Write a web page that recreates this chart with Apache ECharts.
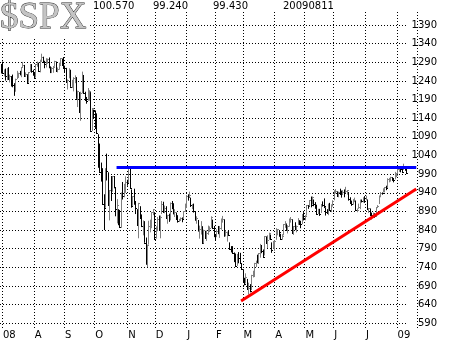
<!DOCTYPE html>
<html><head><meta charset="utf-8">
<script src="https://cdn.jsdelivr.net/npm/echarts@6/dist/echarts.min.js"></script>
<style>html,body{margin:0;padding:0;background:#fff}#c{width:460px;height:345px}</style>
</head><body><div id="c"></div>
<script>
// ---- DATA ----
const holidays = ['2008-07-04','2008-09-01','2008-11-27','2008-12-25','2009-01-01','2009-01-19','2009-02-16','2009-04-10','2009-05-25','2009-07-03'];
const firstDay = '2008-07-01', lastAxisDay = '2009-08-20';
const highs = [
1285,1292,1271,1273,1274,1277,1257,1253,1257,1234,1246,1267,1262,1267,1277,1291,1283,1263,1258,1263,1285,1285,
1270,1263,1285,1292,1289,1297,1313,1305,1294,1301,1300,1303,1279,1277,1280,1294,1292,1276,1289,1301,1300,
1304,1281,1275,1244,1274,1270,1243,1250,1255,1250,1214,1210,1211,1265,1256,1211,1197,1221,1215,1210,1167,
1163,1161,1153,1097,1072,1021,1006,936,1006,1045,995,947,985,985,985,955,923,896,894,941,969,964,984,
975,1007,1004,949,931,951,917,896,913,904,882,866,864,820,801,865,868,888,896,
888,850,875,879,879,918,916,906,904,881,884,914,918,912,896,887,880,870,874,874,891,911,
934,936,943,927,910,911,890,877,867,852,864,850,841,838,839,852,850,877,868,851,
826,842,851,851,871,878,869,839,836,839,807,797,797,780,777,776,781,779,751,
735,712,724,709,699,695,720,731,752,758,774,778,803,800,788,823,823,826,833,828,807,811,
813,845,842,839,830,829,856,864,856,853,871,875,869,851,861,852,872,866,865,883,888,
880,907,907,920,930,930,922,915,908,897,897,910,917,925,901,896,911,913,909,920,
947,950,944,943,951,946,947,949,956,946,942,928,919,923,927,918,898,911,922,922,928,931,
932,921,898,898,887,887,885,901,907,933,942,941,952,954,959,979,980,983,982,978,996,993,
1003,1006,1006,1009,1018,1011,1006];
const lows = [
1260,1261,1252,1241,1242,1244,1236,1225,1223,1200,1211,1245,1248,1255,1250,1276,1252,1251,1234,1235,1264,1262,
1254,1247,1249,1278,1264,1263,1291,1288,1274,1276,1286,1274,1261,1261,1262,1278,1264,1263,1270,1283,1282,
1272,1263,1236,1217,1247,1224,1221,1212,1234,1192,1170,1155,1133,1207,1205,1187,1179,1187,1187,1106,1106,
1140,1112,1098,1007,996,970,909,840,900,973,907,866,918,943,952,877,858,853,847,846,922,928,940,
959,966,951,900,905,908,883,852,818,872,848,826,806,747,741,801,834,845,880,
815,817,837,840,818,883,886,885,872,857,862,866,896,882,875,867,860,862,866,861,870,889,
899,919,927,902,896,887,865,857,836,817,828,804,804,816,811,827,835,846,844,821,
812,821,829,819,841,860,822,823,809,825,787,780,777,754,742,744,751,751,734,
700,692,697,680,667,673,679,713,714,741,751,749,766,778,766,772,805,792,814,814,779,790,
784,814,826,822,814,814,826,846,838,831,849,860,832,827,840,834,854,854,845,856,866,
866,879,897,903,901,909,904,897,883,883,878,886,903,899,879,886,880,892,888,903,
920,938,929,928,934,927,934,928,939,935,919,911,905,908,915,893,888,897,896,914,914,913,
920,896,886,879,869,878,873,875,899,910,928,935,941,941,947,953,968,970,972,968,976,982,
990,996,995,993,1001,999,991];
const closes = [
1284.9,1261.5,1262.9,1252.3,1273.7,1244.7,1253.4,1239.5,1228.3,1214.9,1245.4,1260.3,1260.7,1260.0,1277.0,1282.2,1252.5,1257.8,1234.4,1263.2,1284.3,1267.4,
1260.3,1249.0,1284.9,1289.2,1266.1,1296.3,1305.3,1289.6,1285.8,1292.9,1298.2,1278.6,1266.7,1274.5,1277.7,1292.2,1266.8,1271.5,1281.7,1300.7,1282.8,
1277.6,1275.0,1236.8,1242.3,1267.8,1224.5,1232.0,1249.1,1251.7,1192.7,1213.6,1156.4,1206.5,1255.1,1207.1,1188.2,1185.9,1209.2,1213.3,1106.4,1166.4,
1161.1,1114.3,1099.2,1056.9,996.2,984.9,909.9,899.2,1003.4,998.0,907.8,946.4,940.6,985.4,955.1,896.8,908.1,876.8,848.9,940.5,930.1,954.1,968.8,
966.3,1005.8,952.8,904.9,931.0,919.2,899.0,852.3,911.3,873.3,850.8,859.1,806.6,752.4,800.0,851.8,857.4,887.7,896.2,
816.2,848.8,870.7,845.2,876.1,909.7,888.7,899.2,873.6,879.7,868.6,913.2,904.4,885.3,887.9,871.6,863.2,868.2,872.8,869.4,890.6,903.3,
931.8,927.5,934.7,906.7,909.7,890.4,870.3,871.8,842.6,843.7,850.1,805.2,840.2,827.5,832.0,836.6,845.7,874.1,845.1,825.9,
825.4,838.5,832.2,845.9,868.6,869.9,827.2,833.7,835.2,826.8,789.2,788.4,778.9,770.1,743.3,773.1,764.9,752.8,735.1,
700.8,696.3,712.9,682.6,683.4,676.5,719.6,721.4,750.7,756.6,753.9,778.1,794.4,784.0,768.5,822.9,806.1,813.9,832.9,815.9,787.5,797.9,
811.1,834.4,842.5,835.5,815.6,825.2,856.6,858.7,841.5,852.1,865.3,869.6,832.4,850.1,843.6,851.9,866.2,857.5,855.2,873.6,872.8,
877.5,907.2,903.8,919.5,907.4,929.2,909.2,908.4,883.9,893.1,882.9,909.7,908.1,903.5,888.3,887.0,910.3,893.1,906.8,919.1,
942.9,944.7,931.8,942.5,940.1,939.1,942.4,939.2,944.9,946.2,923.7,912.0,910.7,918.4,921.2,893.0,895.1,900.9,920.3,918.9,927.2,919.3,
923.3,896.4,898.7,881.0,879.6,882.7,879.1,901.1,905.8,932.7,940.7,940.4,951.1,954.6,954.1,976.3,979.3,982.2,979.6,975.2,986.8,987.5,
1002.6,1005.7,1002.7,997.1,1010.5,1007.1,994.4];
const tickDates = ['2008-07-01','2008-08-01','2008-09-02','2008-10-01','2008-11-03','2008-12-01','2009-01-02','2009-02-02','2009-03-02','2009-04-01','2009-05-01','2009-06-01','2009-07-01','2009-08-03'];
const tickLabels = ['08','A','S','O','N','D','J','F','M','A','M','J','J','09'];
const yTicks = {min: 590, max: 1390, step: 50};
const blueLine = [['2008-10-23', 1008], ['2009-08-20', 1008]];
const redLine = [['2009-02-27', 650], ['2009-08-20', 950]];
const headerTexts = ['100.570', '99.240', '99.430', '20090811'];
const headerX = [93, 153, 213, 283];

// ---- trading-day categories ----
const dates = [];
(function(){
  let d = new Date(firstDay + 'T00:00:00Z');
  const end = new Date(lastAxisDay + 'T00:00:00Z');
  while (d <= end) {
    const s = d.toISOString().slice(0,10);
    const wd = d.getUTCDay();
    if (wd !== 0 && wd !== 6 && holidays.indexOf(s) < 0) dates.push(s);
    d = new Date(d.getTime() + 86400000);
  }
})();

const barData = closes.map((c, i) => [i, lows[i], highs[i], c, (i > 0 && c >= closes[i-1]) ? 1 : 0]);
const font = 'DejaVu Sans';
const dotted = {color: '#000', width: 1, type: [1, 2]};

const chart = echarts.init(document.getElementById('c'), null, {renderer: 'canvas'});
chart.setOption({
  animation: false,
  backgroundColor: '#fff',
  title: {
    text: '$SPX', left: 0, top: 1, padding: [0, 2, 0, 0], backgroundColor: '#fff', z: 10,
    textStyle: {fontFamily: 'Liberation Serif', fontSize: 37, fontWeight: 'normal', lineHeight: 35,
      color: '#c4c4c4', textBorderColor: '#222', textBorderWidth: 0.8}
  },
  graphic: headerTexts.map((t, k) => ({
    type: 'text', left: headerX[k], top: 1, z: 10,
    style: {text: t, font: '10px "DejaVu Sans"', fill: '#000'}
  })),
  grid: [
    {left: 0, right: 43, top: 12, bottom: 17},
    {left: 0, right: 43, top: 25, bottom: 21.7},
    {left: 0, right: 53, top: 25, bottom: 21.7}
  ],
  xAxis: [
    {gridIndex: 0, type: 'category', data: dates, boundaryGap: true,
      axisLine: {show: false}, axisTick: {show: false},
      splitLine: {show: true, interval: (i, v) => tickDates.indexOf(v) >= 0, lineStyle: dotted},
      axisLabel: {interval: (i, v) => tickDates.indexOf(v) >= 0,
        formatter: v => tickLabels[tickDates.indexOf(v)] || '',
        align: 'left', margin: 2, fontSize: 10, fontFamily: font, color: '#000'}},
    {gridIndex: 1, type: 'category', data: dates, boundaryGap: true, show: false},
    {gridIndex: 2, type: 'value', show: false}
  ],
  yAxis: [
    {gridIndex: 0, type: 'value', show: false, splitLine: {show: false}},
    {gridIndex: 1, type: 'value', min: yTicks.min, max: yTicks.max, show: false, splitLine: {show: false}},
    {gridIndex: 2, type: 'value', position: 'right', min: yTicks.min, max: yTicks.max, interval: yTicks.step,
      axisLine: {show: false}, axisTick: {show: false},
      splitLine: {show: true, lineStyle: dotted},
      axisLabel: {align: 'right', margin: 30, fontSize: 10, fontFamily: font, color: '#000',
        formatter: v => String(v)}}
  ],
  series: [
    {type: 'custom', xAxisIndex: 1, yAxisIndex: 1, data: barData, encode: {x: 0, y: [1, 2]}, z: 3,
      renderItem: function(params, api) {
        const i = api.value(0);
        const lo = api.coord([i, api.value(1)]);
        const hi = api.coord([i, api.value(2)]);
        const c = api.coord([i, api.value(3)]);
        const col = api.value(4) ? '#808080' : '#000';
        const x = Math.round(lo[0]) + 0.5;
        const cy = Math.round(c[1]) + 0.5;
        return {type: 'group', children: [
          {type: 'line', shape: {x1: x, y1: lo[1], x2: x, y2: hi[1]}, style: {stroke: col, lineWidth: 1}},
          {type: 'line', shape: {x1: x - 0.5, y1: cy, x2: x + 1.5, y2: cy}, style: {stroke: col, lineWidth: 1}}
        ]};
      }},
    {type: 'line', xAxisIndex: 1, yAxisIndex: 1, symbol: 'none', z: 5, clip: false,
      data: blueLine.map(p => [dates.indexOf(p[0]), p[1]]),
      lineStyle: {color: '#0000ff', width: 3}},
    {type: 'line', xAxisIndex: 1, yAxisIndex: 1, symbol: 'none', z: 5, clip: false,
      data: redLine.map(p => [dates.indexOf(p[0]), p[1]]),
      lineStyle: {color: '#ff0000', width: 3}}
  ]
});
</script></body></html>
